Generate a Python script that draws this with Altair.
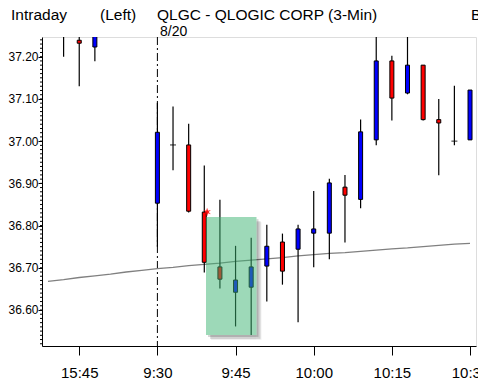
import altair as alt
import pandas as pd
import numpy as np

# ---- data ----
BAR_INDEX = [-1, 0, 1, 5, 6, 7, 8, 9, 10, 11, 12, 13, 14, 15, 16, 17, 18, 19, 20, 21, 22, 23, 24, 25]
OPEN  = [37.270, 37.239, 37.223, 36.853, 36.991, 36.991, 36.832, 36.702, 36.642, 36.654, 36.704, 36.761,
         36.744, 36.782, 36.782, 36.891, 36.862, 37.003, 37.190, 37.114, 37.180, 37.051, 37.000, 37.003]
HIGH  = [37.300, 37.270, 37.270, 37.091, 37.082, 37.041, 36.942, 36.861, 36.752, 36.771, 36.802, 36.781,
         36.802, 36.882, 36.911, 36.920, 37.051, 37.260, 37.202, 37.260, 37.180, 37.100, 37.131, 37.121]
LOW   = [37.200, 37.130, 37.189, 36.750, 36.931, 36.831, 36.689, 36.651, 36.561, 36.541, 36.620, 36.660,
         36.571, 36.701, 36.720, 36.760, 36.841, 36.990, 37.049, 37.111, 37.049, 36.919, 36.990, 37.003]
CLOSE = [37.260, 37.232, 37.260, 37.021, 36.991, 36.834, 36.713, 36.673, 36.671, 36.702, 36.751, 36.692,
         36.792, 36.792, 36.901, 36.872, 37.022, 37.190, 37.102, 37.180, 37.051, 37.043, 37.000, 37.121]

MA_INDEX = list(range(-2, 26))
MA_VALUE = [36.668, 36.672, 36.677, 36.681, 36.685, 36.690, 36.694, 36.698, 36.701, 36.705, 36.708, 36.711,
            36.715, 36.718, 36.721, 36.724, 36.728, 36.731, 36.734, 36.736, 36.739, 36.742, 36.745, 36.747,
            36.750, 36.753, 36.756, 36.758]

TICK_INDEX = [0, 5, 10, 15, 20, 25]
TICK_LABELS = ["15:45", "9:30", "9:45", "10:00", "10:15", "10:30"]
Y_TICKS = [36.6, 36.7, 36.8, 36.9, 37.0, 37.1, 37.2]
MINOR_TICKS = [round(36.52 + 0.01 * k, 2) for k in range(73)]
SESSION_OPEN = [5]
HIGHLIGHT = {"x1": [8.11], "x2": [11.34], "y1": [36.541], "y2": [36.820]}
MARKER = {"i": [8.18], "v": [36.832]}

HEADER_LEFT = "Intraday"
HEADER_SIDE = "(Left)"
HEADER_TITLE = "QLGC - QLOGIC CORP  (3-Min)"
HEADER_DATE = "8/20"
HEADER_RIGHT = "Ba"

FONT = "Liberation Sans, Arial, sans-serif"

df = pd.DataFrame({"i": BAR_INDEX, "o": OPEN, "h": HIGH, "l": LOW, "c": CLOSE})
df["dir"] = np.where(df.c > df.o, "up", np.where(df.c < df.o, "down", "flat"))
bodies = df[df.dir != "flat"]
dojis = df[df.dir == "flat"]

xs = alt.Scale(domain=[-2.0625, 25.0625], nice=False, zero=False)
ys = alt.Scale(domain=[36.5147, 37.2467], nice=False, zero=False)

label_expr = "[" + ",".join("'%s'" % t for t in TICK_LABELS) + "][indexof([" + ",".join(str(v) for v in TICK_INDEX) + "], datum.value)]"

x_axis = alt.Axis(values=TICK_INDEX, labelExpr=label_expr, tickSize=9, labelPadding=10, grid=False,
                  title=None, domainColor="black", tickColor="black", labelColor="black",
                  labelFont=FONT, labelFontSize=15, labelFlush=False, labelOverlap=False)
y_axis = alt.Axis(values=Y_TICKS, format=".2f", tickSize=4, labelPadding=0, grid=False, title=None,
                  domainColor="black", tickColor="black", labelColor="black", labelFont=FONT,
                  labelFontSize=12, labelOverlap=False, labelFlush=False)

X = lambda f: alt.X(f, type="quantitative", scale=xs, axis=x_axis)
Y = lambda f: alt.Y(f, type="quantitative", scale=ys, axis=y_axis)

session = alt.Chart(pd.DataFrame({"i": SESSION_OPEN})).mark_rule(
    color="black", strokeWidth=1, strokeDash=[8, 3, 2, 3]).encode(x=X("i"))

ma = alt.Chart(pd.DataFrame({"i": MA_INDEX, "v": MA_VALUE})).mark_line(
    color="#808080", strokeWidth=1.3, clip=True).encode(x=X("i"), y=Y("v"))

wicks = alt.Chart(df).mark_rule(color="black", strokeWidth=1.2, clip=True).encode(
    x=X("i"), y=Y("l"), y2="h")

body = alt.Chart(bodies).mark_bar(width=4, stroke="black", strokeWidth=1, clip=True).encode(
    x=X("i"), y=Y("o"), y2="c",
    color=alt.Color("dir:N", scale=alt.Scale(domain=["up", "down"], range=["#0000ff", "#ff0000"]), legend=None))

doji = alt.Chart(dojis).mark_tick(orient="horizontal", size=6, thickness=1.2, color="black", clip=True).encode(
    x=X("i"), y=Y("c"))

minor = alt.Chart(pd.DataFrame({"v": MINOR_TICKS})).mark_rule(color="black", strokeWidth=1).encode(
    y=Y("v"), x=alt.value(-2), x2=alt.value(0))

hl = pd.DataFrame(HIGHLIGHT)

def shadow(d, op):
    right = alt.Chart(hl).mark_rect(color="black", opacity=op, x2Offset=d, yOffset=d, y2Offset=d).encode(
        x=X("x2"), x2="x2", y=Y("y1"), y2="y2")
    bottom = alt.Chart(hl).mark_rect(color="black", opacity=op, xOffset=d, y2Offset=d).encode(
        x=X("x1"), x2="x2", y=Y("y1"), y2="y1")
    return [right, bottom]

shadows = shadow(2, 0.16) + shadow(4, 0.12) + shadow(5, 0.06)
highlight = alt.Chart(hl).mark_rect(color="#3cb371", opacity=0.5).encode(
    x=X("x1"), x2="x2", y=Y("y1"), y2="y2")

star = "M0,-1L0.22,-0.3L0.9,-0.5L0.35,0L0.9,0.5L0.22,0.3L0,1L-0.22,0.3L-0.9,0.5L-0.35,0L-0.9,-0.5L-0.22,-0.3Z"
spark = alt.Chart(pd.DataFrame(MARKER)).mark_point(shape=star, filled=True, color="#ff0000", size=70, opacity=0.9).encode(
    x=X("i"), y=Y("v"))

def text(label, x, y, size=15.5):
    return alt.Chart(pd.DataFrame({"t": [label]})).mark_text(
        font=FONT, fontSize=size, color="black", align="left", baseline="alphabetic").encode(
        text="t:N", x=alt.value(x), y=alt.value(y))

texts = [
    text(HEADER_LEFT, -31, -17.5),
    text(HEADER_SIDE, 58, -17.5),
    text(HEADER_TITLE, 115, -17.5),
    text(HEADER_DATE, 118, -1.5, 14),
    text(HEADER_RIGHT, 429, -17.5),
]

chart = alt.layer(session, ma, wicks, body, doji, minor, *shadows, highlight, spark, *texts).properties(
    width=434, height=309,
    autosize=alt.AutoSizeParams(type="none"),
    padding={"left": 34, "top": 29, "right": 2, "bottom": 34},
).configure_view(stroke=None).configure(background="white")

chart.save("out.html", embed_options={"renderer": "svg", "actions": False})
